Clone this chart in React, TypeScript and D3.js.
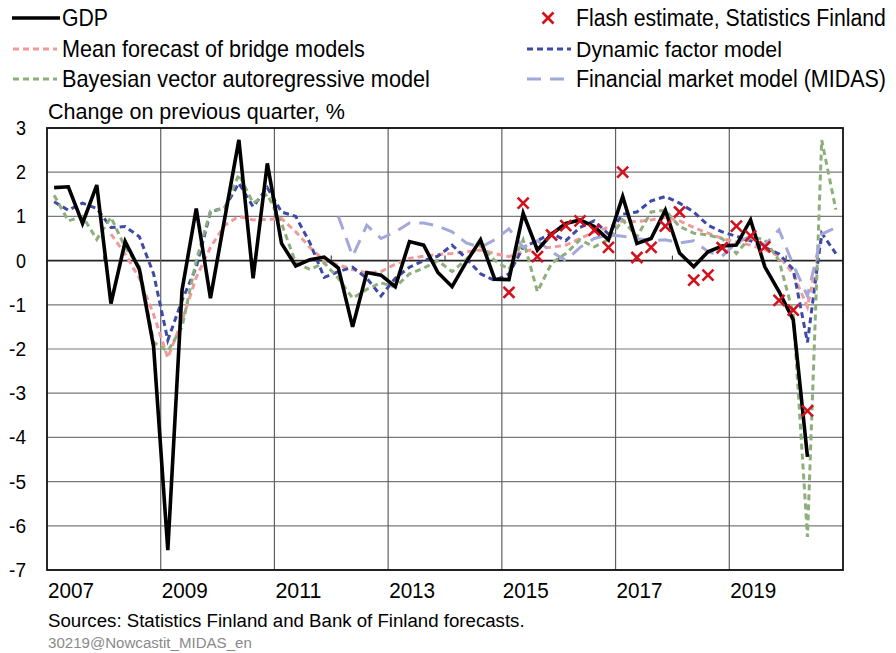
import { useRef, useEffect } from "react";
import * as d3 from "d3";

// quarters 2007Q1 .. 2020Q4
const years = d3.range(2007, 2021);
const quarters = years.flatMap((y) => [1, 2, 3, 4].map((q) => `${y}Q${q}`));

const yTicks = [3, 2, 1, 0, -1, -2, -3, -4, -5, -6, -7];
const xLabels = ["2007", "2009", "2011", "2013", "2015", "2017", "2019"];

const gdp = [
  1.65, 1.67, 0.84, 1.71, -0.97, 0.43, -0.2, -1.95, -6.55, -0.67, 1.18, -0.85,
  0.95, 2.73, -0.4, 2.2, 0.39, -0.12, 0.02, 0.08, -0.17, -1.5, -0.27, -0.33,
  -0.59, 0.43, 0.35, -0.27, -0.59, -0.03, 0.47, -0.42, -0.43, 1.07, 0.24, 0.6,
  0.84, 0.92, 0.77, 0.47, 1.45, 0.39, 0.5, 1.14, 0.17, -0.14, 0.2, 0.33, 0.35,
  0.92, -0.14, -0.7, -1.34, -4.44, null, null,
];

const flash = [
  null, null, null, null, null, null, null, null, null, null, null, null,
  null, null, null, null, null, null, null, null, null, null, null, null,
  null, null, null, null, null, null, null, null, -0.72, 1.3, 0.09, 0.58,
  0.79, 0.9, 0.69, 0.3, 2.0, 0.07, 0.3, 0.78, 1.1, -0.44, -0.33, 0.29, 0.78,
  0.56, 0.31, -0.9, -1.12, -3.4, null, null,
];

const bridge = [
  null, null, null, null, 0.6, 0.15, -0.4, -1.22, -2.2, -1.36, -0.38, 0.3,
  0.8, 1.0, 0.92, 0.93, 0.95, 0.65, 0.3, 0.0, -0.1, -0.2, -0.28, -0.25, -0.08,
  0.05, 0.1, 0.14, 0.16, 0.2, 0.24, 0.16, 0.09, 0.2, 0.28, 0.3, 0.35, 0.5,
  0.65, 0.75, 0.9, 0.88, 0.92, 0.98, 0.9, 0.75, 0.62, 0.5, 0.42, 0.35, 0.25,
  0.1, -0.3, -1.05, 0.5, null,
];

const dfm = [
  1.33, 1.14, 1.3, 1.18, 0.75, 0.77, 0.54, -0.3, -1.8, -0.9, -0.15, 1.1, 1.2,
  1.75, 1.22, 1.65, 1.1, 1.0, 0.4, -0.38, -0.25, -0.15, -0.4, -0.8, -0.4,
  -0.15, 0.0, 0.1, 0.35, 0.05, -0.3, -0.45, -0.3, 0.3, 0.45, 0.62, 0.45, 0.75,
  0.9, 0.6, 1.05, 1.1, 1.35, 1.45, 1.3, 1.1, 0.8, 0.65, 0.55, 0.45, 0.3, 0.15,
  -0.2, -1.85, 0.62, 0.16,
];

const bvar = [
  1.48, 0.9, 1.0, 0.48, 0.98, 0.3, -0.14, -1.85, -2.05, -1.5, 0.0, 1.12, 1.18,
  1.95, 1.3, 1.5, 0.84, -0.05, -0.2, -0.05, -0.4, -0.85, -0.65, -0.5, -0.6,
  -0.3, -0.17, 0.0, -0.25, 0.03, 0.35, 0.0, -0.2, 0.47, -0.7, -0.06, 0.16,
  0.47, 0.31, 0.47, 0.92, 0.54, 1.1, 1.14, 0.77, 0.62, 0.58, 0.5, 0.16, 0.54,
  0.47, 0.0, -1.2, -6.25, 2.73, 1.15,
];

const midas = [
  null, null, null, null, null, null, null, null, null, null, null, null,
  null, null, null, null, null, null, null, null, 1.0, 0.1, 0.8, 0.5, 0.65,
  0.85, 0.85, 0.78, 0.65, 0.4, 0.3, 0.47, 0.72, 0.3, 0.45, 0.2, 0.0, 0.3, 0.5,
  0.58, 0.55, 0.5, 0.45, 0.47, 0.4, 0.45, 0.2, 0.1, 0.4, 0.55, 0.35, 0.7,
  -0.1, -0.8, 0.6, 0.75,
];

const FONT = "'Liberation Sans', Arial, sans-serif";

export default function App() {
  const svgRef = useRef(null);

  useEffect(() => {
    const svg = d3.select(svgRef.current);
    svg.selectAll("*").remove();

    const left = 47, right = 843, top = 128, bottom = 570;

    // condensed text (the original uses a narrow font): squeeze horizontally to a target width
    const label = (g, x, y, text, size, width, fill = "#000", anchor = "start") => {
      const wrap = g.append("g");
      const t = wrap
        .append("text")
        .attr("font-family", FONT)
        .attr("font-size", size)
        .attr("fill", fill)
        .attr("text-anchor", anchor)
        .text(text);
      const natural = t.node().getComputedTextLength() || width;
      const sx = width ? width / natural : 1;
      wrap.attr("transform", `translate(${x},${y}) scale(${sx},1)`);
      return t;
    };

    const x = d3.scaleBand().domain(quarters).range([left, right]).padding(0);
    const y = d3.scaleLinear().domain([-7, 3]).range([bottom, top]);
    const cx = (i) => x(quarters[i]) + x.bandwidth() / 2;

    // horizontal grid
    svg
      .append("g")
      .selectAll("line")
      .data(yTicks)
      .enter()
      .append("line")
      .attr("x1", left)
      .attr("x2", right)
      .attr("y1", (d) => y(d))
      .attr("y2", (d) => y(d))
      .attr("stroke", (d) => (d === 0 ? "#222" : "#7a7a7a"))
      .attr("stroke-width", (d) => (d === 0 ? 1.6 : 1.2));

    // vertical grid every 8 quarters
    const vIdx = d3.range(8, 56, 8);
    svg
      .append("g")
      .selectAll("line")
      .data(vIdx)
      .enter()
      .append("line")
      .attr("x1", (i) => x(quarters[i]))
      .attr("x2", (i) => x(quarters[i]))
      .attr("y1", top)
      .attr("y2", bottom)
      .attr("stroke", "#606060")
      .attr("stroke-width", 1.2);

    // small ticks on the zero axis
    const tIdx = d3.range(4, 56, 8);
    svg
      .append("g")
      .selectAll("line")
      .data(tIdx)
      .enter()
      .append("line")
      .attr("x1", (i) => x(quarters[i]))
      .attr("x2", (i) => x(quarters[i]))
      .attr("y1", y(0))
      .attr("y2", y(0) - 5)
      .attr("stroke", "#444")
      .attr("stroke-width", 1.2);

    // frame
    svg
      .append("rect")
      .attr("x", left)
      .attr("y", top)
      .attr("width", right - left)
      .attr("height", bottom - top)
      .attr("fill", "none")
      .attr("stroke", "#111")
      .attr("stroke-width", 1.8);

    const line = d3
      .line()
      .defined((d) => d != null)
      .x((d, i) => cx(i))
      .y((d) => y(d));

    const series = [
      { data: bridge, color: "#f19a9c", width: 3, dash: "6,4" },
      { data: dfm, color: "#3d4aa6", width: 3, dash: "6,4" },
      { data: bvar, color: "#8eae7c", width: 3, dash: "6,4" },
      { data: midas, color: "#a2a8da", width: 3, dash: "14,9" },
    ];
    series.forEach((s) => {
      svg
        .append("path")
        .attr("d", line(s.data))
        .attr("fill", "none")
        .attr("stroke", s.color)
        .attr("stroke-width", s.width)
        .attr("stroke-dasharray", s.dash);
    });

    svg
      .append("path")
      .attr("d", line(gdp))
      .attr("fill", "none")
      .attr("stroke", "#000")
      .attr("stroke-width", 3.6)
      .attr("stroke-linejoin", "miter");

    // flash estimate crosses
    const r = 5.5;
    const fl = svg.append("g").attr("stroke", "#d4101c").attr("stroke-width", 2.6);
    flash.forEach((v, i) => {
      if (v == null) return;
      const px = cx(i), py = y(v);
      fl.append("line").attr("x1", px - r).attr("y1", py - r).attr("x2", px + r).attr("y2", py + r);
      fl.append("line").attr("x1", px - r).attr("y1", py + r).attr("x2", px + r).attr("y2", py - r);
    });

    // y tick labels
    const yl = svg.append("g");
    yTicks.forEach((d) => label(yl, 26, y(d) + 7, String(d), 21, d < 0 ? 17 : 10, "#000", "end"));

    // x labels
    const xl = svg.append("g");
    xLabels.forEach((d, i) => label(xl, x(quarters[i * 8]) + 1, 598, d, 22, 46));

    label(svg, 48, 119, "Change on previous quarter, %", 22, 297);
    label(svg, 48, 627, "Sources: Statistics Finland  and Bank of Finland  forecasts.", 19, 477);
    label(svg, 48, 648, "30219@Nowcastit_MIDAS_en", 15.5, 204, "#8a8a8a");

    // legend
    const legend = [
      { label: "GDP", kind: "gdp", lx: 10, ly: 18, w: 46 },
      { label: "Mean forecast of bridge models", kind: "bridge", lx: 10, ly: 49, w: 303 },
      { label: "Bayesian vector autoregressive model", kind: "bvar", lx: 10, ly: 79, w: 368 },
      { label: "Flash estimate, Statistics Finland", kind: "flash", lx: 524, ly: 18, w: 310 },
      { label: "Dynamic factor model", kind: "dfm", lx: 524, ly: 49, w: 206 },
      { label: "Financial market model (MIDAS)", kind: "midas", lx: 524, ly: 79, w: 310 },
    ];
    const style = {
      bridge: series[0],
      dfm: series[1],
      bvar: series[2],
      midas: series[3],
    };
    legend.forEach((l) => {
      const g = svg.append("g");
      if (l.kind === "gdp") {
        g.append("line")
          .attr("x1", l.lx + 2).attr("x2", l.lx + 50)
          .attr("y1", l.ly).attr("y2", l.ly)
          .attr("stroke", "#000").attr("stroke-width", 3.6);
      } else if (l.kind === "flash") {
        const px = l.lx + 24, py = l.ly;
        g.attr("stroke", "#d4101c").attr("stroke-width", 2.6);
        g.append("line").attr("x1", px - r).attr("y1", py - r).attr("x2", px + r).attr("y2", py + r);
        g.append("line").attr("x1", px - r).attr("y1", py + r).attr("x2", px + r).attr("y2", py - r);
      } else {
        const s = style[l.kind];
        g.append("line")
          .attr("x1", l.lx + 3).attr("x2", l.lx + 47)
          .attr("y1", l.ly).attr("y2", l.ly)
          .attr("stroke", s.color).attr("stroke-width", s.width)
          .attr("stroke-dasharray", s.dash);
      }
      label(svg, l.lx + 52, l.ly + 8, l.label, 23, l.w);
    });
  }, []);

  return (
    <svg
      ref={svgRef}
      width={896}
      height={653}
      style={{ position: "absolute", left: 0, top: 0, background: "#fff" }}
    />
  );
}
